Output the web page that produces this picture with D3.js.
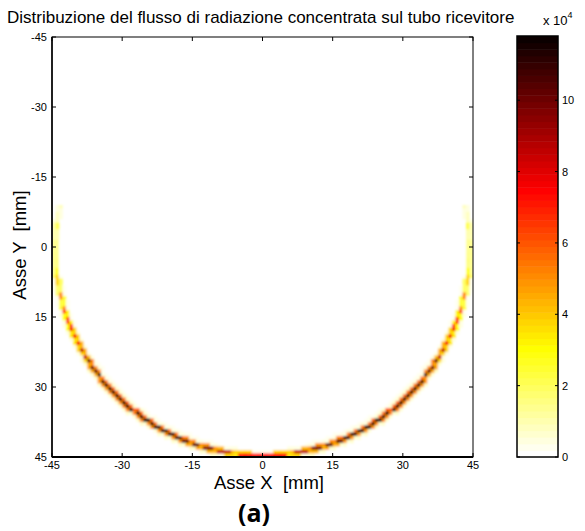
<!DOCTYPE html>
<html>
<head>
<meta charset="utf-8">
<script src="https://cdn.jsdelivr.net/npm/d3@7"></script>
<style>
  body { margin: 0; background: #fff; }
  text { font-family: "Liberation Sans", Arial, sans-serif; fill: #000; }
</style>
</head>
<body>
<svg width="585" height="531"></svg>
<script>
// flux peak along the tube wall, by angle from the bottom of the tube (degrees), values x 10^4
const fluxAngle = [0, 5, 10, 15, 20, 25, 30, 35, 40, 45, 50, 55, 60, 65, 70, 75, 80, 85, 90, 95, 100, 105];
const fluxPeak  = [7.3, 7.5, 8.6, 9.6, 10.2, 10.8, 11.0, 11.4, 11.5, 11.4, 11.0, 10.0, 8.6, 7.6, 6.4, 5.0, 3.8, 3.1, 2.9, 2.2, 0.9, 0];
// radial spread of the flux across the ring (mm from the wall) and relative weight
const ringOffset = [-4, -3, -2, -1.5, -1, -0.5, 0, 0.5, 1, 1.5];
const ringWeight = [0.012, 0.012, 0.015, 0.02, 0.05, 0.5, 1, 0.45, 0.06, 0.015];
const ringRadius = 44.3;
const ringCenterY = 0.4;
const cellSize = 0.75;

const axisTicks = [-45, -30, -15, 0, 15, 30, 45];
const cbarTicks = [0, 2, 4, 6, 8, 10];
const cbarMax = 11.8;

const svg = d3.select("svg");
const plot = {left: 52, top: 37, width: 421, height: 420};

const x = d3.scaleLinear().domain([-45, 45]).range([plot.left, plot.left + plot.width]);
const y = d3.scaleLinear().domain([-45, 45]).range([plot.top, plot.top + plot.height]);

// inverted "hot" colormap, 64 levels
const nLev = 64;
const hot = d3.range(nLev).map(i => {
    const n = 24;
    const r = i < n ? (i + 1) / n : 1;
    const g = i < n ? 0 : (i < 2 * n ? (i - n + 1) / n : 1);
    const b = i < 2 * n ? 0 : (i - 2 * n + 1) / (nLev - 2 * n);
    return d3.rgb(r * 255, g * 255, b * 255).formatHex();
}).reverse();
const color = v => hot[Math.max(0, Math.min(nLev - 1, Math.floor(v / cbarMax * nLev)))];

function nearest(arr, v) {
    let best = 0;
    arr.forEach((a, i) => { if (Math.abs(a - v) < Math.abs(arr[best] - v)) best = i; });
    return best;
}

// build the grid cells that carry flux
const centers = d3.range(-45 + cellSize / 2, 45, cellSize);
const cells = [];
centers.forEach(cy => centers.forEach(cx => {
    const r = Math.hypot(cx, cy - ringCenterY);
    const d = r - ringRadius;
    if (d < -4.5 || d > 1.75) return;
    const ang = Math.abs(Math.atan2(cx, cy - ringCenterY) * 180 / Math.PI);
    if (ang > 107.5) return;
    const v = fluxPeak[nearest(fluxAngle, ang)] * ringWeight[nearest(ringOffset, d)];
    if (v > 0.12) cells.push({cx, cy, v});
}));

const defs = svg.append("defs");
defs.append("clipPath").attr("id", "plotClip")
    .append("rect").attr("x", plot.left).attr("y", plot.top)
    .attr("width", plot.width).attr("height", plot.height);
defs.append("filter").attr("id", "soft")
    .attr("x", "-5%").attr("y", "-5%").attr("width", "110%").attr("height", "110%")
    .append("feGaussianBlur").attr("stdDeviation", 1.0);

svg.append("g").attr("clip-path", "url(#plotClip)")
  .append("g").attr("filter", "url(#soft)")
  .selectAll("rect").data(cells).enter().append("rect")
    .attr("x", d => x(d.cx - cellSize / 2))
    .attr("y", d => y(d.cy - cellSize / 2))
    .attr("width", x(cellSize) - x(0) + 0.3)
    .attr("height", y(cellSize) - y(0) + 0.3)
    .attr("fill", d => color(d.v));

// axes box with inward ticks
const tl = 4;
const axes = svg.append("g").attr("stroke", "#000").attr("fill", "none");
axes.append("rect").attr("x", plot.left).attr("y", plot.top)
    .attr("width", plot.width).attr("height", plot.height).attr("stroke-width", 1);
axes.append("line").attr("x1", plot.left).attr("x2", plot.left + plot.width)
    .attr("y1", plot.top + plot.height).attr("y2", plot.top + plot.height).attr("stroke-width", 2);
axes.append("line").attr("x1", plot.left).attr("x2", plot.left)
    .attr("y1", plot.top).attr("y2", plot.top + plot.height).attr("stroke-width", 1.5);
axisTicks.forEach(t => {
    axes.append("line").attr("x1", x(t)).attr("x2", x(t))
        .attr("y1", plot.top + plot.height).attr("y2", plot.top + plot.height - tl);
    axes.append("line").attr("x1", x(t)).attr("x2", x(t))
        .attr("y1", plot.top).attr("y2", plot.top + tl);
    axes.append("line").attr("y1", y(t)).attr("y2", y(t))
        .attr("x1", plot.left).attr("x2", plot.left + tl);
    axes.append("line").attr("y1", y(t)).attr("y2", y(t))
        .attr("x1", plot.left + plot.width).attr("x2", plot.left + plot.width - tl);
});

svg.append("g").selectAll("text").data(axisTicks).enter().append("text")
    .attr("x", d => x(d)).attr("y", plot.top + plot.height + 12)
    .attr("text-anchor", "middle").attr("font-size", 11).text(d => d);
svg.append("g").selectAll("text").data(axisTicks).enter().append("text")
    .attr("x", plot.left - 5).attr("y", d => y(d) + 4)
    .attr("text-anchor", "end").attr("font-size", 11).text(d => d);

svg.append("text").attr("x", 7).attr("y", 23).attr("font-size", 17)
    .text("Distribuzione del flusso di radiazione concentrata sul tubo ricevitore");
svg.append("text").attr("x", 269).attr("y", 489).attr("text-anchor", "middle").attr("font-size", 18.5)
    .attr("xml:space", "preserve").text("Asse X  [mm]");
svg.append("text").attr("transform", "translate(26,245) rotate(-90)")
    .attr("text-anchor", "middle").attr("font-size", 18.5)
    .attr("xml:space", "preserve").text("Asse Y  [mm]");
svg.append("text").attr("x", 254).attr("y", 522).attr("text-anchor", "middle")
    .attr("font-size", 25).attr("font-weight", "bold")
    .style("font-family", "'Open Sans', sans-serif").text("(a)");

// colorbar
const cb = {left: 517, top: 36, width: 41, height: 421};
const cy = d3.scaleLinear().domain([0, cbarMax]).range([cb.top + cb.height, cb.top]);
const levels = d3.range(nLev);
svg.append("g").selectAll("rect").data(levels).enter().append("rect")
    .attr("x", cb.left).attr("width", cb.width)
    .attr("y", i => cy((i + 1) * cbarMax / nLev))
    .attr("height", i => cy(i * cbarMax / nLev) - cy((i + 1) * cbarMax / nLev) + 0.5)
    .attr("fill", i => hot[i]);
svg.append("rect").attr("x", cb.left).attr("y", cb.top).attr("width", cb.width).attr("height", cb.height)
    .attr("fill", "none").attr("stroke", "#000").attr("stroke-width", 1.5);
const cbt = svg.append("g").attr("stroke", "#000");
cbarTicks.forEach(t => {
    cbt.append("line").attr("x1", cb.left).attr("x2", cb.left + 3).attr("y1", cy(t)).attr("y2", cy(t));
    cbt.append("line").attr("x1", cb.left + cb.width).attr("x2", cb.left + cb.width - 3).attr("y1", cy(t)).attr("y2", cy(t));
});
svg.append("g").selectAll("text").data(cbarTicks).enter().append("text")
    .attr("x", cb.left + cb.width + 4).attr("y", d => cy(d) + 4)
    .attr("font-size", 11).text(d => d);
const mult = svg.append("text").attr("x", 543).attr("y", 25).attr("font-size", 13);
mult.append("tspan").text("x 10");
mult.append("tspan").attr("dy", -7).attr("font-size", 9).text("4");
</script>
</body>
</html>
